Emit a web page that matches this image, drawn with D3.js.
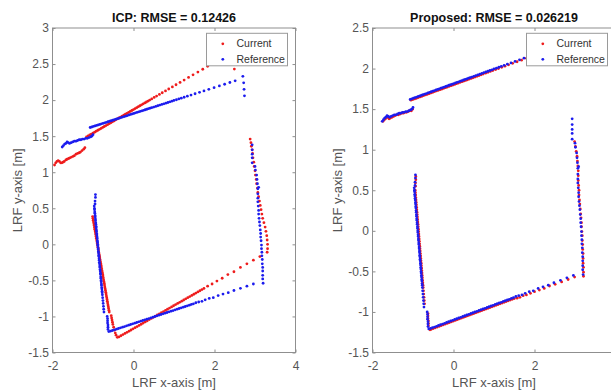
<!DOCTYPE html>
<html>
<head>
<meta charset="utf-8">
<script src="https://cdn.jsdelivr.net/npm/d3@7"></script>
<style>
  html, body { margin: 0; padding: 0; background: #fff; }
  svg { display: block; }
</style>
</head>
<body>
<script>
// Laser range finder scans, [x, y] in metres (LRF frame)
const titles = ["ICP: RMSE = 0.12426", "Proposed: RMSE = 0.026219"];
const seriesNames = ["Current", "Reference"];
const icpXTicks = [-2, 0, 2, 4];
const proposedXTicks = [-2, 0, 2];
const icpYTicks = [-1.5, -1, -0.5, 0, 0.5, 1, 1.5, 2, 2.5, 3];
const proposedYTicks = [-1.5, -1, -0.5, 0, 0.5, 1, 1.5, 2, 2.5];

// Reference scan (same in both panels)
const referenceScan = [
  // upper-left short wall
  [-1.76,1.35],[-1.73,1.37],[-1.70,1.39],[-1.67,1.40],[-1.64,1.42],[-1.61,1.41],[-1.58,1.40],[-1.54,1.41],
  [-1.50,1.42],[-1.46,1.43],[-1.42,1.43],[-1.38,1.44],[-1.34,1.45],[-1.30,1.45],[-1.26,1.46],[-1.22,1.46],
  [-1.18,1.47],[-1.14,1.47],[-1.10,1.48],[-1.06,1.49],[-1.03,1.50],[-1.00,1.52],
  // upper long wall
  [-1.07,1.620],[-1.03,1.627],[-0.99,1.635],[-0.95,1.642],[-0.91,1.649],[-0.87,1.656],[-0.83,1.663],[-0.79,1.671],
  [-0.75,1.678],[-0.71,1.685],[-0.67,1.692],[-0.63,1.700],[-0.59,1.707],[-0.55,1.714],[-0.51,1.721],[-0.47,1.729],
  [-0.43,1.736],[-0.39,1.743],[-0.35,1.750],[-0.31,1.758],[-0.27,1.765],[-0.23,1.772],[-0.19,1.779],[-0.15,1.786],
  [-0.11,1.794],[-0.07,1.801],[-0.03,1.808],[0.01,1.815],[0.05,1.823],[0.09,1.830],[0.13,1.837],[0.17,1.844],
  [0.21,1.852],[0.25,1.859],[0.29,1.866],[0.33,1.873],[0.37,1.881],[0.41,1.888],[0.45,1.895],[0.50,1.904],
  [0.55,1.913],[0.60,1.922],[0.65,1.931],[0.70,1.940],[0.75,1.949],[0.80,1.958],[0.85,1.967],[0.90,1.976],
  [0.95,1.985],[1.00,1.995],[1.06,2.005],[1.12,2.016],[1.18,2.027],[1.25,2.040],[1.33,2.054],[1.42,2.070],
  [1.52,2.088],[1.63,2.108],[1.74,2.128],[1.86,2.150],[1.99,2.173],[2.12,2.197],[2.25,2.220],[2.38,2.244],[2.51,2.267],
  // corner post
  [2.70,2.33],[2.72,2.24],[2.73,2.15],[2.74,2.06],
  // right wall
  [2.93,1.38],[2.93,1.31],[2.93,1.25],[2.93,1.20],[2.93,1.13],[3.00,1.08],[3.01,1.03],[3.04,0.96],[3.05,0.90],
  [3.06,0.84],[3.09,0.79],[3.07,0.77],[3.07,0.70],[3.07,0.64],[3.07,0.59],[3.08,0.53],[3.09,0.47],[3.09,0.42],
  [3.10,0.36],[3.11,0.31],[3.12,0.26],[3.13,0.20],[3.14,0.15],[3.14,0.10],[3.15,0.05],[3.16,-0.01],[3.16,-0.06],
  [3.17,-0.11],[3.17,-0.16],[3.18,-0.21],[3.18,-0.27],[3.19,-0.32],[3.19,-0.37],[3.19,-0.43],[3.19,-0.48],[3.20,-0.54],
  // lower wall
  [2.96,-0.55],[2.80,-0.58],[2.64,-0.61],[2.48,-0.64],[2.34,-0.67],[2.21,-0.69],[2.09,-0.71],[1.97,-0.74],
  [1.87,-0.75],[1.77,-0.77],[1.69,-0.79],[1.61,-0.80],[1.54,-0.81],
  [1.48,-0.825],[1.43,-0.834],[1.38,-0.844],[1.33,-0.853],[1.28,-0.862],[1.23,-0.871],[1.18,-0.881],[1.13,-0.890],
  [1.08,-0.899],[1.03,-0.908],[0.98,-0.918],[0.93,-0.927],[0.88,-0.936],[0.83,-0.945],[0.78,-0.955],[0.73,-0.964],
  [0.68,-0.973],[0.63,-0.982],[0.58,-0.992],[0.53,-1.001],[0.48,-1.010],[0.43,-1.019],[0.38,-1.029],[0.33,-1.038],
  [0.28,-1.047],[0.23,-1.056],[0.18,-1.066],[0.13,-1.075],[0.08,-1.084],[0.03,-1.093],[-0.02,-1.103],[-0.07,-1.112],
  [-0.12,-1.121],[-0.17,-1.130],[-0.22,-1.140],[-0.27,-1.149],[-0.32,-1.158],[-0.37,-1.167],[-0.42,-1.177],
  [-0.47,-1.186],[-0.52,-1.195],[-0.57,-1.204],[-0.61,-1.210],
  // door jamb
  [-0.63,-1.18],[-0.63,-1.15],[-0.63,-1.12],[-0.64,-1.09],[-0.64,-1.06],[-0.64,-1.03],[-0.65,-1.00],
  // left wall
  [-0.94,0.69],[-0.94,0.65],[-0.95,0.60],[-0.95,0.56],
  [-0.970,0.53],[-0.965,0.50],[-0.962,0.48],[-0.957,0.45],[-0.954,0.43],[-0.949,0.40],[-0.945,0.38],[-0.940,0.35],
  [-0.937,0.33],[-0.932,0.30],[-0.929,0.28],[-0.924,0.25],[-0.921,0.23],[-0.916,0.20],[-0.913,0.18],[-0.908,0.15],
  [-0.904,0.13],[-0.899,0.10],[-0.896,0.08],[-0.891,0.05],[-0.888,0.03],[-0.883,0.00],[-0.880,-0.02],[-0.875,-0.05],
  [-0.872,-0.07],[-0.867,-0.10],[-0.863,-0.12],[-0.858,-0.15],[-0.855,-0.17],[-0.850,-0.20],[-0.847,-0.22],
  [-0.842,-0.25],[-0.839,-0.27],[-0.834,-0.30],[-0.831,-0.32],[-0.826,-0.35],[-0.822,-0.37],[-0.817,-0.40],
  [-0.814,-0.42],[-0.809,-0.45],[-0.806,-0.47],[-0.801,-0.50],[-0.798,-0.52],[-0.793,-0.55],[-0.790,-0.57],
  [-0.785,-0.60],[-0.781,-0.62],[-0.776,-0.65],[-0.773,-0.67],[-0.768,-0.70],[-0.762,-0.74],[-0.755,-0.78],
  [-0.749,-0.82],[-0.742,-0.86],[-0.736,-0.90],[-0.729,-0.94]
];

// Current scan after ICP alignment
const icpCurrent = [
  [-1.95,1.10],[-1.92,1.13],[-1.89,1.15],[-1.86,1.16],[-1.83,1.15],[-1.80,1.13],[-1.77,1.13],[-1.74,1.14],
  [-1.71,1.15],[-1.67,1.17],[-1.64,1.18],[-1.60,1.19],[-1.57,1.20],[-1.53,1.21],[-1.49,1.22],[-1.46,1.23],
  [-1.42,1.25],[-1.38,1.26],[-1.34,1.27],[-1.31,1.28],[-1.27,1.30],[-1.23,1.32],[-1.20,1.34],
  [-1.16,1.490],[-1.12,1.503],[-1.08,1.516],[-1.04,1.529],[-1.00,1.542],[-0.96,1.555],[-0.92,1.569],[-0.88,1.582],
  [-0.84,1.595],[-0.80,1.608],[-0.76,1.621],[-0.72,1.634],[-0.68,1.647],[-0.64,1.660],[-0.60,1.673],[-0.56,1.686],
  [-0.52,1.699],[-0.48,1.712],[-0.44,1.726],[-0.40,1.739],[-0.36,1.752],[-0.32,1.765],[-0.28,1.778],[-0.24,1.791],
  [-0.20,1.804],[-0.16,1.817],[-0.12,1.830],[-0.08,1.843],[-0.04,1.856],[0.00,1.869],[0.04,1.882],[0.08,1.895],
  [0.12,1.909],[0.16,1.922],[0.20,1.935],[0.24,1.948],[0.28,1.961],[0.32,1.974],[0.36,1.987],[0.40,2.000],
  [0.45,2.017],[0.51,2.037],[0.57,2.056],[0.64,2.079],[0.71,2.102],[0.79,2.128],[0.87,2.154],[0.96,2.183],
  [1.05,2.213],[1.15,2.245],[1.25,2.278],[1.36,2.314],[1.47,2.350],[1.59,2.389],[1.71,2.428],[1.83,2.468],
  [1.96,2.510],[2.09,2.553],[2.22,2.595],
  [2.49,2.43],[2.47,2.52],[2.45,2.61],
  [2.88,1.46],[2.90,1.41],[2.91,1.36],[2.93,1.31],[2.94,1.26],[2.95,1.20],[2.97,1.14],[2.98,1.08],[3.00,1.02],
  [3.01,0.96],[3.03,0.90],[3.04,0.84],[3.06,0.78],[3.07,0.72],[3.09,0.66],[3.11,0.60],[3.13,0.54],[3.15,0.48],
  [3.17,0.42],[3.19,0.36],[3.22,0.30],[3.25,0.24],[3.27,0.18],[3.29,0.12],[3.30,0.06],[3.31,0.00],[3.31,-0.06],[3.30,-0.11],
  [3.12,-0.17],[2.96,-0.22],[2.80,-0.27],[2.64,-0.32],[2.48,-0.38],[2.33,-0.42],[2.19,-0.47],[2.06,-0.51],
  [1.94,-0.55],[1.83,-0.58],
  [1.74,-0.612],[1.69,-0.628],[1.64,-0.644],[1.59,-0.660],[1.54,-0.676],[1.49,-0.692],[1.44,-0.708],[1.39,-0.724],
  [1.34,-0.740],[1.29,-0.756],[1.24,-0.772],[1.19,-0.788],[1.14,-0.804],[1.09,-0.820],[1.04,-0.836],[0.99,-0.852],
  [0.94,-0.868],[0.89,-0.884],[0.84,-0.900],[0.79,-0.916],[0.74,-0.932],[0.69,-0.948],[0.64,-0.964],[0.59,-0.980],
  [0.54,-0.996],[0.49,-1.012],[0.44,-1.028],[0.39,-1.044],[0.34,-1.060],[0.29,-1.076],[0.24,-1.092],[0.19,-1.108],
  [0.14,-1.124],[0.09,-1.140],[0.04,-1.156],[-0.01,-1.172],[-0.06,-1.188],[-0.11,-1.204],[-0.16,-1.220],
  [-0.21,-1.236],[-0.26,-1.252],[-0.31,-1.268],[-0.36,-1.284],[-0.40,-1.290],
  [-0.55,-0.99],[-0.54,-1.02],[-0.53,-1.05],[-0.52,-1.08],[-0.51,-1.11],[-0.49,-1.15],[-0.47,-1.19],[-0.45,-1.23],[-0.43,-1.26],
  [-1.010,0.385],[-1.002,0.360],[-0.995,0.335],[-0.987,0.310],[-0.979,0.285],[-0.971,0.260],[-0.964,0.235],
  [-0.956,0.210],[-0.948,0.185],[-0.940,0.160],[-0.933,0.135],[-0.925,0.110],[-0.917,0.085],[-0.909,0.060],
  [-0.902,0.035],[-0.894,0.010],[-0.886,-0.015],[-0.878,-0.040],[-0.870,-0.065],[-0.863,-0.090],[-0.855,-0.115],
  [-0.847,-0.140],[-0.839,-0.165],[-0.832,-0.190],[-0.824,-0.215],[-0.816,-0.240],[-0.808,-0.265],[-0.801,-0.290],
  [-0.793,-0.315],[-0.785,-0.340],[-0.777,-0.365],[-0.770,-0.390],[-0.762,-0.415],[-0.754,-0.440],[-0.746,-0.465],
  [-0.739,-0.490],[-0.731,-0.515],[-0.723,-0.540],[-0.715,-0.565],[-0.708,-0.590],[-0.700,-0.615],[-0.692,-0.640],
  [-0.684,-0.665],[-0.677,-0.690],[-0.669,-0.715],[-0.661,-0.740],[-0.653,-0.765],[-0.646,-0.790],[-0.638,-0.815],
  [-0.630,-0.840],[-0.622,-0.865],[-0.615,-0.890],[-0.607,-0.915],[-0.599,-0.940]
];

// Current scan after the proposed alignment
const proposedCurrent = [
  [-1.74,1.35],[-1.71,1.37],[-1.68,1.38],[-1.64,1.40],[-1.60,1.39],[-1.59,1.38],[-1.56,1.39],[-1.52,1.40],
  [-1.48,1.41],[-1.44,1.42],[-1.40,1.43],[-1.36,1.43],[-1.32,1.44],[-1.28,1.45],[-1.24,1.45],[-1.20,1.46],
  [-1.16,1.46],[-1.12,1.47],[-1.08,1.48],[-1.04,1.48],[-1.01,1.50],
  [-1.05,1.610],[-1.005,1.618],[-0.96,1.626],[-0.915,1.634],[-0.87,1.643],[-0.825,1.651],[-0.78,1.659],
  [-0.735,1.667],[-0.69,1.675],[-0.645,1.683],[-0.60,1.691],[-0.555,1.700],[-0.51,1.708],[-0.465,1.716],
  [-0.42,1.724],[-0.375,1.732],[-0.33,1.740],[-0.285,1.748],[-0.24,1.757],[-0.195,1.765],[-0.15,1.773],
  [-0.105,1.781],[-0.06,1.789],[-0.015,1.797],[0.03,1.805],[0.075,1.814],[0.12,1.822],[0.165,1.830],[0.21,1.838],
  [0.255,1.846],[0.30,1.854],[0.345,1.862],[0.39,1.871],[0.435,1.879],[0.48,1.887],[0.53,1.896],[0.58,1.905],
  [0.63,1.914],[0.68,1.923],[0.73,1.932],[0.79,1.943],[0.85,1.954],[0.91,1.965],[0.97,1.976],[1.04,1.988],
  [1.11,2.001],[1.19,2.015],[1.27,2.030],[1.36,2.046],[1.46,2.064],[1.57,2.084],[1.68,2.104],[1.80,2.126],
  [1.92,2.147],[2.05,2.171],[2.18,2.194],
  [2.71,2.30],[2.73,2.21],[2.74,2.12],
  [2.99,1.10],[3.01,1.04],[3.03,0.98],[3.05,0.92],[3.06,0.86],[3.07,0.80],[3.08,0.74],[3.08,0.68],[3.08,0.62],
  [3.09,0.56],[3.10,0.50],[3.10,0.44],[3.11,0.38],[3.12,0.33],[3.13,0.27],[3.14,0.21],[3.15,0.16],[3.16,0.10],
  [3.16,0.05],[3.17,-0.01],[3.18,-0.06],[3.18,-0.12],[3.19,-0.17],[3.19,-0.23],[3.20,-0.28],[3.20,-0.34],
  [3.20,-0.40],[3.21,-0.45],[3.21,-0.51],[3.21,-0.56],
  [2.99,-0.57],[2.83,-0.60],[2.67,-0.63],[2.51,-0.66],[2.37,-0.68],[2.24,-0.71],[2.12,-0.73],[2.00,-0.75],
  [1.90,-0.77],[1.80,-0.79],[1.72,-0.80],[1.64,-0.82],[1.57,-0.83],
  [1.50,-0.835],[1.45,-0.844],[1.40,-0.854],[1.35,-0.863],[1.30,-0.872],[1.25,-0.881],[1.20,-0.891],[1.15,-0.900],
  [1.10,-0.909],[1.05,-0.918],[1.00,-0.928],[0.95,-0.937],[0.90,-0.946],[0.85,-0.955],[0.80,-0.965],[0.75,-0.974],
  [0.70,-0.983],[0.65,-0.992],[0.60,-1.002],[0.55,-1.011],[0.50,-1.020],[0.45,-1.029],[0.40,-1.039],[0.35,-1.048],
  [0.30,-1.057],[0.25,-1.066],[0.20,-1.076],[0.15,-1.085],[0.10,-1.094],[0.05,-1.103],[0.00,-1.113],[-0.05,-1.122],
  [-0.10,-1.131],[-0.15,-1.140],[-0.20,-1.150],[-0.25,-1.159],[-0.30,-1.168],[-0.35,-1.177],[-0.40,-1.187],
  [-0.45,-1.196],[-0.50,-1.205],[-0.55,-1.214],[-0.58,-1.220],
  [-0.62,-1.17],[-0.62,-1.14],[-0.62,-1.11],[-0.63,-1.08],[-0.63,-1.05],[-0.63,-1.02],
  [-0.93,0.67],[-0.93,0.63],[-0.94,0.59],[-0.94,0.55],
  [-0.945,0.50],[-0.940,0.47],[-0.935,0.44],[-0.930,0.41],[-0.925,0.38],[-0.920,0.35],[-0.915,0.32],[-0.911,0.29],
  [-0.906,0.26],[-0.901,0.23],[-0.896,0.20],[-0.891,0.17],[-0.886,0.14],[-0.881,0.11],[-0.876,0.08],[-0.871,0.05],
  [-0.866,0.02],[-0.861,-0.01],[-0.856,-0.04],[-0.852,-0.07],[-0.847,-0.10],[-0.842,-0.13],[-0.837,-0.16],
  [-0.832,-0.19],[-0.827,-0.22],[-0.822,-0.25],[-0.817,-0.28],[-0.812,-0.31],[-0.807,-0.34],[-0.802,-0.37],
  [-0.797,-0.40],[-0.793,-0.43],[-0.788,-0.46],[-0.783,-0.49],[-0.778,-0.52],[-0.773,-0.55],[-0.768,-0.58],
  [-0.763,-0.61],[-0.758,-0.64],[-0.753,-0.67],[-0.748,-0.70],[-0.741,-0.74],[-0.735,-0.78],[-0.728,-0.82],
  [-0.722,-0.86],[-0.715,-0.90]
];

// ---- drawing ----
const W = 611, H = 390;
const plotW = 243, plotH = 324.5, plotTop = 28;
const FONT = "'Liberation Sans', Arial, Helvetica, sans-serif";
const AXIS = "#8f8f8f", TEXT = "#555", RED = "#ee1c1c", BLUE = "#1c1cee";
const DOT_R = 1.4;

const panels = [
  { left: 52.5,  title: titles[0], current: icpCurrent,      yDomain: [-1.5, 3],   xTicks: icpXTicks,      yTicks: icpYTicks },
  { left: 372.5, title: titles[1], current: proposedCurrent, yDomain: [-1.5, 2.5], xTicks: proposedXTicks, yTicks: proposedYTicks }
];

const svg = d3.select("body").append("svg").attr("width", W).attr("height", H);

const fmt = d => String(d);

function styleAxis(sel) {
  sel.select(".domain").remove();
  sel.attr("font-family", FONT).attr("font-size", 12);
  sel.selectAll("line").attr("stroke", AXIS);
  sel.selectAll("text").attr("fill", TEXT);
}

panels.forEach(p => {
  const g = svg.append("g").attr("transform", `translate(${p.left},${plotTop})`);
  const x = d3.scaleLinear().domain([-2, 4]).range([0, plotW]);
  const y = d3.scaleLinear().domain(p.yDomain).range([plotH, 0]);

  g.append("rect").attr("width", plotW).attr("height", plotH).attr("fill", "#fff");

  g.append("g").attr("transform", `translate(0,${plotH})`)
    .call(d3.axisBottom(x).tickValues(p.xTicks).tickFormat(fmt).tickSizeInner(-3).tickSizeOuter(0).tickPadding(9))
    .call(styleAxis);
  g.append("g")
    .call(d3.axisTop(x).tickValues(p.xTicks).tickFormat("").tickSizeInner(-3).tickSizeOuter(0))
    .call(styleAxis);
  g.append("g")
    .call(d3.axisLeft(y).tickValues(p.yTicks).tickFormat(fmt).tickSizeInner(-3).tickSizeOuter(0).tickPadding(3.5))
    .call(styleAxis);
  g.append("g").attr("transform", `translate(${plotW},0)`)
    .call(d3.axisRight(y).tickValues(p.yTicks).tickFormat("").tickSizeInner(-3).tickSizeOuter(0))
    .call(styleAxis);

  g.append("rect").attr("width", plotW).attr("height", plotH)
    .attr("fill", "none").attr("stroke", AXIS).attr("stroke-width", 1);

  // scan points: current first, reference on top
  g.append("g").selectAll("circle").data(p.current).join("circle")
    .attr("cx", d => x(d[0])).attr("cy", d => y(d[1])).attr("r", DOT_R).attr("fill", RED);
  g.append("g").selectAll("circle").data(referenceScan).join("circle")
    .attr("cx", d => x(d[0])).attr("cy", d => y(d[1])).attr("r", DOT_R).attr("fill", BLUE);

  // title
  g.append("text").attr("x", plotW / 2).attr("y", 21.5 - plotTop)
    .attr("text-anchor", "middle").attr("font-family", FONT).attr("font-size", 12.5)
    .attr("font-weight", "bold").attr("fill", "#111").text(p.title);

  // axis labels
  g.append("text").attr("x", plotW / 2).attr("y", 387 - plotTop)
    .attr("text-anchor", "middle").attr("font-family", FONT).attr("font-size", 13)
    .attr("fill", TEXT).text("LRF x-axis [m]");
  g.append("text").attr("transform", `translate(-30.5,${plotH / 2}) rotate(-90)`)
    .attr("text-anchor", "middle").attr("font-family", FONT).attr("font-size", 13)
    .attr("fill", TEXT).text("LRF y-axis [m]");

  // legend
  const lw = 81, lh = 32.5;
  const lg = g.append("g").attr("transform", `translate(${plotW - 8 - lw},5.3)`);
  lg.append("rect").attr("width", lw).attr("height", lh)
    .attr("fill", "#fff").attr("stroke", "#9a9a9a").attr("stroke-width", 1);
  [RED, BLUE].forEach((c, i) => {
    const cy = 10.5 + i * 15.5;
    lg.append("circle").attr("cx", 16.3).attr("cy", cy).attr("r", DOT_R).attr("fill", c);
    lg.append("text").attr("x", 30).attr("y", cy + 3.7)
      .attr("font-family", FONT).attr("font-size", 10.5).attr("fill", "#333")
      .text(seriesNames[i]);
  });
});
</script>
</body>
</html>
